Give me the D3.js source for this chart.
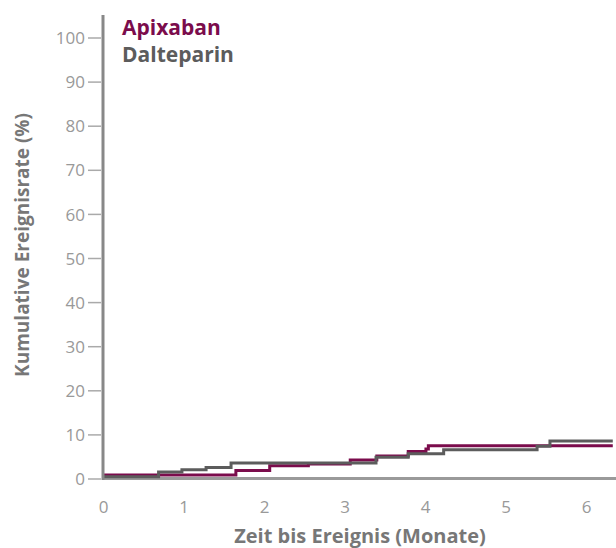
<!DOCTYPE html>
<html>
<head>
<meta charset="utf-8">
<script src="https://cdn.jsdelivr.net/npm/d3@7"></script>
<style>
  body { margin: 0; background: #fff; }
  svg text { font-family: "Open Sans", "DejaVu Sans", sans-serif; }
</style>
</head>
<body>
<div id="chart"></div>
<script>
// Kumulative Ereignisrate, Kaplan-Meier-Stufen
const apixabanMonths = [0, 1.65, 2.07, 2.55, 3.07, 3.40, 3.79, 4.01, 4.04, 6.33];
const apixabanRates  = [0.8, 1.8, 2.9, 3.3, 4.2, 5.1, 6.1, 6.7, 7.4, 7.4];
const dalteparinMonths = [0, 0.69, 0.98, 1.28, 1.59, 3.39, 3.79, 4.23, 5.39, 5.55, 6.33];
const dalteparinRates  = [0.4, 1.5, 2.0, 2.5, 3.5, 4.8, 5.6, 6.5, 7.3, 8.5, 8.5];
const xTicks = [0, 1, 2, 3, 4, 5, 6];
const yTicks = [0, 10, 20, 30, 40, 50, 60, 70, 80, 90, 100];
const seriesNames = ["Apixaban", "Dalteparin"];
const seriesColors = ["#7b0c4c", "#5c5c5c"];

const width = 616, height = 548;

const svg = d3.select("#chart")
              .append("svg")
              .attr("width", width)
              .attr("height", height);

const x = d3.scaleLinear().domain([0, 6.37]).range([103, 616]);
const y = d3.scaleLinear().domain([0, 100]).range([478.5, 37.5]);

// y axis: ticks and labels
const yAxis = d3.axisLeft(y).tickValues(yTicks).tickSize(13).tickPadding(3);
const gy = svg.append("g")
              .attr("transform", "translate(101,0)")
              .call(yAxis);
gy.select(".domain").remove();
gy.selectAll(".tick line").attr("stroke", "#aaa").attr("stroke-width", 1.5);
gy.selectAll(".tick text")
  .attr("fill", "#999")
  .style("font-size", "17px")
  .attr("dy", "0.36em");

// x axis: labels only
const xAxis = d3.axisBottom(x).tickValues(xTicks).tickFormat(d3.format("d"))
                .tickSize(0).tickPadding(22);
const gx = svg.append("g")
              .attr("transform", "translate(0,478.5)")
              .call(xAxis);
gx.select(".domain").remove();
gx.selectAll(".tick text")
  .attr("fill", "#999")
  .style("font-size", "17px");

// axis lines
svg.append("line")
   .attr("x1", 103).attr("x2", 616)
   .attr("y1", y(0)).attr("y2", y(0))
   .attr("stroke", "#9a9a9a")
   .attr("stroke-width", 3);

// step curves
const line = d3.line()
               .x(d => x(d[0]))
               .y(d => y(d[1]))
               .curve(d3.curveStepAfter);

const seriesData = [
  d3.zip(apixabanMonths, apixabanRates),
  d3.zip(dalteparinMonths, dalteparinRates)
];

svg.selectAll("path.km")
   .data(seriesData)
   .enter()
   .append("path")
   .attr("class", "km")
   .attr("d", line)
   .attr("fill", "none")
   .attr("stroke", (d, i) => seriesColors[i])
   .attr("stroke-width", 3);

svg.append("line")
   .attr("x1", 103).attr("x2", 103)
   .attr("y1", 15).attr("y2", y(0) + 1.5)
   .attr("stroke", "#888")
   .attr("stroke-width", 3);

// legend
svg.selectAll("text.legend")
   .data(seriesNames)
   .enter()
   .append("text")
   .attr("class", "legend")
   .attr("x", 122)
   .attr("y", (d, i) => 35 + i * 27)
   .attr("fill", (d, i) => seriesColors[i])
   .style("font-size", "21px")
   .style("font-weight", "bold")
   .text(d => d);

// axis titles
svg.append("text")
   .attr("transform", "translate(29,245) rotate(-90)")
   .attr("text-anchor", "middle")
   .attr("fill", "#777")
   .style("font-size", "19px")
   .style("font-weight", "bold")
   .text("Kumulative Ereignisrate (%)");

svg.append("text")
   .attr("x", 360)
   .attr("y", 543)
   .attr("text-anchor", "middle")
   .attr("fill", "#777")
   .style("font-size", "20px")
   .style("font-weight", "bold")
   .text("Zeit bis Ereignis (Monate)");
</script>
</body>
</html>
